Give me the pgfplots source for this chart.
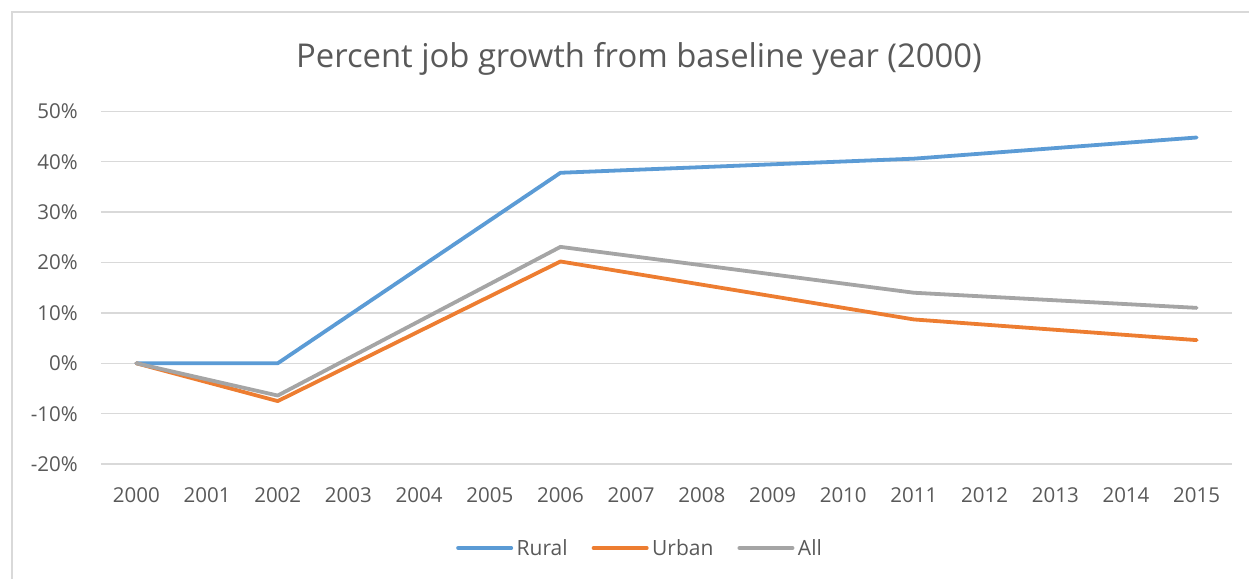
\documentclass[border=0pt]{standalone}
\usepackage{fontspec}
\setmainfont{Open Sans}
\usepackage{pgfplots}
\pgfplotsset{compat=1.18}
\definecolor{cBlue}{HTML}{5B9BD5}
\definecolor{cOrange}{HTML}{ED7D31}
\definecolor{cGray}{HTML}{A5A5A5}
\definecolor{cGrid}{HTML}{D9D9D9}
\definecolor{cText}{HTML}{595959}
\begin{document}
\begin{tikzpicture}
\path[use as bounding box] (0,0) rectangle (1249bp,579bp);
\draw[cGrid, line width=1.5bp] (12bp,0) -- (12bp,567bp) -- (1249bp,567bp);
\begin{axis}[
  at={(101bp,114.9bp)}, anchor=south west,
  scale only axis, width=1131bp, height=352.8bp,
  xmin=-0.5, xmax=15.5, ymin=-20, ymax=50,
  axis line style={draw=none},
  major tick length=0pt,
  xtick={0,...,15},
  xticklabels={2000,2001,2002,2003,2004,2005,2006,2007,2008,2009,2010,2011,2012,2013,2014,2015},
  ytick={-20,-10,0,10,20,30,40,50},
  yticklabels={-20\%,-10\%,0\%,10\%,20\%,30\%,40\%,50\%},
  ymajorgrids, grid style={cGrid, line width=1.5bp},
  /pgf/number format/assume math mode=true,
  xticklabel style={font=\fontsize{20.5bp}{24bp}\selectfont, text=cText, inner sep=0pt, anchor=north, yshift=-23bp},
  yticklabel style={font=\fontsize{20.5bp}{24bp}\selectfont, text=cText, inner sep=0pt, anchor=east, xshift=-23bp},
  title={Percent job growth from baseline year (2000)},
  title style={font=\fontsize{32.8bp}{38bp}\selectfont, text=cText, at={(0.4757,1.1086)}, anchor=base, inner sep=0pt},
  legend columns=3,
  legend style={draw=none, fill=none, at={(0.4766,-0.2378)}, anchor=center,
    font=\fontsize{21bp}{25bp}\selectfont, text=cText, inner sep=0pt,
    /tikz/every odd column/.append style={column sep=1.5bp},
    /tikz/every even column/.append style={column sep=22bp}},
  legend image code/.code={\draw[#1, line width=4bp, line cap=round] (0bp,0bp) -- (53bp,0bp);},
  every axis plot/.append style={line width=3.8bp, line join=round, line cap=round},
  clip=false,
]
\addplot[cBlue] coordinates {(0,0) (2,0) (6,37.8) (11,40.6) (15,44.8)};
\addlegendentry{Rural}
\addplot[cOrange] coordinates {(0,0) (2,-7.5) (6,20.2) (11,8.7) (15,4.6)};
\addlegendentry{Urban}
\addplot[cGray] coordinates {(0,0) (2,-6.4) (6,23.1) (11,14.0) (15,11.0)};
\addlegendentry{All}
\end{axis}
\end{tikzpicture}
\end{document}
